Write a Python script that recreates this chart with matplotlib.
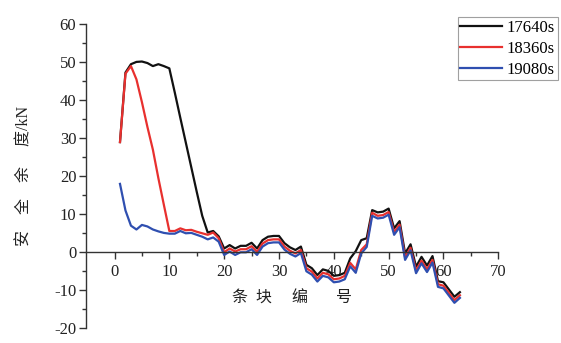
import numpy as np
import matplotlib
matplotlib.use("Agg")
import matplotlib.pyplot as plt
from matplotlib.ticker import MultipleLocator

plt.rcParams['font.family'] = ['Liberation Serif', 'Noto Sans CJK SC', 'DejaVu Sans']
plt.rcParams['axes.unicode_minus'] = False

# slice numbers and safety margin (kN) at three times
slices = np.arange(1, 64)

s17640 = [29, 47.3, 49.5, 50.1, 50.2, 49.8, 49.0, 49.5, 49.0, 48.4,
          42.0, 35.4, 28.9, 22.4, 15.9, 9.6, 5.2, 5.6, 4.2, 1.0,
          1.9, 1.0, 1.7, 1.7, 2.5, 1.0, 3.2, 4.1, 4.3, 4.3,
          2.4, 1.3, 0.6, 1.5, -3.3, -4.2, -6.0, -4.5, -4.9, -6.2,
          -6.0, -5.4, -1.6, 0.3, 3.2, 3.7, 11.1, 10.5, 10.7, 11.5,
          6.3, 8.2, -0.3, 2.1, -3.8, -1.2, -3.5, -1.0, -7.6, -7.9,
          -9.8, -11.7, -10.5]

s18360 = [29, 47.0, 49.0, 45.5, 39.5, 33.0, 27.0, 19.5, 12.5, 5.6,
          5.6, 6.3, 5.8, 5.9, 5.4, 5.0, 4.6, 5.2, 3.7, 0.0,
          1.0, 0.2, 0.8, 0.8, 1.6, 0.1, 2.3, 3.2, 3.4, 3.4,
          1.5, 0.4, -0.3, 0.6, -4.2, -5.1, -6.9, -5.4, -5.8, -7.1,
          -6.9, -6.2, -2.8, -4.5, 0.6, 2.1, 10.4, 9.6, 9.8, 10.6,
          5.3, 7.3, -1.3, 1.2, -4.8, -2.2, -4.5, -2.0, -8.4, -8.8,
          -10.7, -12.6, -11.3]

s19080 = [18, 11.0, 7.0, 6.0, 7.2, 6.8, 6.0, 5.5, 5.1, 4.9,
          4.9, 5.6, 5.0, 5.1, 4.6, 4.1, 3.4, 3.9, 2.8, -0.7,
          0.2, -0.7, 0.0, 0.0, 0.8, -0.7, 1.5, 2.4, 2.6, 2.6,
          0.7, -0.4, -1.1, -0.2, -5.0, -5.9, -7.7, -6.2, -6.6, -7.9,
          -7.7, -7.1, -3.7, -5.4, -0.3, 1.4, 9.6, 8.9, 9.1, 9.9,
          4.6, 6.6, -2.0, 0.5, -5.5, -2.9, -5.2, -2.7, -9.1, -9.5,
          -11.4, -13.3, -12.0]

labels = ['17640s', '18360s', '19080s']
colors = ['#111111', '#e8302e', '#2f4fb0']

fig = plt.figure(figsize=(5.61, 3.43), dpi=100)
ax = fig.add_axes([0.1533, 0.0429, 0.7349, 0.8863])

for ys, lab, c in zip([s17640, s18360, s19080], labels, colors):
    ax.plot(slices, ys, color=c, lw=1.6, label=lab)

ax.set_xlim(-5.2, 70)
ax.set_ylim(-20, 60)

ax.spines['top'].set_visible(False)
ax.spines['right'].set_visible(False)
ax.spines['bottom'].set_position(('data', 0))
for sp in ['left', 'bottom']:
    ax.spines[sp].set_color('#333333')
    ax.spines[sp].set_linewidth(1.0)

ax.set_xticks(np.arange(0, 71, 10))
ax.set_xticks(np.arange(5, 70, 10), minor=True)
ax.yaxis.set_major_locator(MultipleLocator(10))
ax.yaxis.set_minor_locator(MultipleLocator(5))
ax.tick_params(which='major', direction='out', length=5, width=1.0,
               colors='#333333', labelsize=12, labelcolor='#222222')
ax.tick_params(which='minor', direction='out', length=3, width=1.0, colors='#333333')
ax.tick_params(axis='y', pad=2)

ax.set_xlabel('条  块　 编　   号', fontsize=11.5, color='#222222', va='center')
ax.xaxis.set_label_coords(0.5, 0.096)
ax.set_ylabel('安　全　余　 度/kN', fontsize=11.5, color='#222222', va='center')
ax.yaxis.set_label_coords(-0.148, 0.5)

leg = ax.legend(loc='upper right', bbox_to_anchor=(557.7 / 561, 1 - 17.3 / 343),
                bbox_transform=fig.transFigure, fontsize=12, frameon=True,
                fancybox=False, borderaxespad=0, borderpad=0.15,
                handlelength=2.5, handletextpad=0.3, labelspacing=0.3)
leg.get_frame().set_edgecolor('#888888')
leg.get_frame().set_linewidth(0.8)

fig.savefig('out.png', dpi=100)
